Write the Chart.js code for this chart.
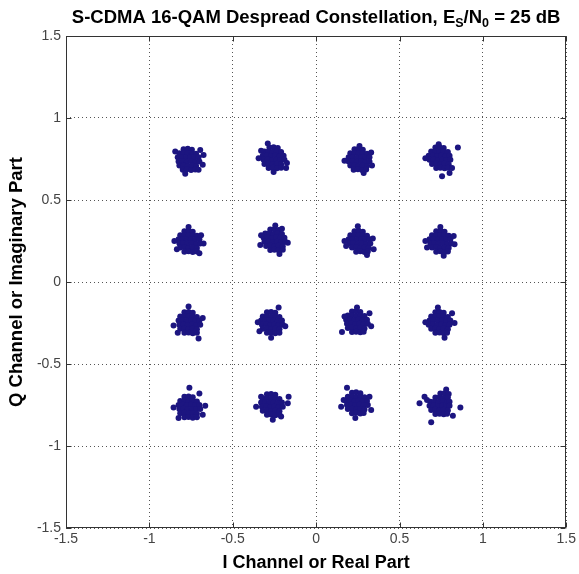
<!DOCTYPE html>
<html><head><meta charset="utf-8">
<script src="https://cdn.jsdelivr.net/npm/chart.js@4/dist/chart.umd.min.js"></script>
<style>html,body{margin:0;padding:0;background:#fff}canvas{display:block}</style>
</head><body>
<canvas id="c" width="579" height="574"></canvas>
<script>
// ---- data ----
const xTickLabels = ['-1.5','-1','-0.5','0','0.5','1','1.5'];
const yTickLabels = ['-1.5','-1','-0.5','0','0.5','1','1.5'];
const titleParts = [['S-CDMA 16-QAM Despread Constellation, E',0],['S',1],['/N',0],['0',1],[' = 25 dB',0]];
const xTitle = 'I Channel or Real Part';
const yTitle = 'Q Channel or Imaginary Part';

const symA = [[-0.795,0.81],[-0.77,0.812],[-0.745,0.807],[-0.82,0.785],[-0.795,0.787],[-0.77,0.783],[-0.745,0.786],[-0.72,0.782],[-0.83,0.76],[-0.805,0.762],[-0.78,0.758],[-0.755,0.761],[-0.73,0.757],[-0.705,0.76],[-0.825,0.735],[-0.80,0.737],[-0.775,0.733],[-0.75,0.736],[-0.725,0.732],[-0.70,0.735],[-0.82,0.71],[-0.795,0.712],[-0.77,0.708],[-0.745,0.711],[-0.72,0.707],[-0.80,0.685],[-0.775,0.687],[-0.75,0.683],[-0.725,0.686],[-0.675,0.775],[-0.68,0.715],[-0.785,0.66],[-0.705,0.685],[-0.845,0.795],[-0.695,0.805]];
const symB = [[-0.28,0.82],[-0.255,0.822],[-0.23,0.817],[-0.31,0.795],[-0.285,0.797],[-0.26,0.793],[-0.235,0.796],[-0.21,0.792],[-0.32,0.77],[-0.295,0.772],[-0.27,0.768],[-0.245,0.771],[-0.22,0.767],[-0.195,0.77],[-0.315,0.745],[-0.29,0.747],[-0.265,0.743],[-0.24,0.746],[-0.215,0.742],[-0.19,0.745],[-0.31,0.72],[-0.285,0.722],[-0.26,0.718],[-0.235,0.721],[-0.21,0.717],[-0.285,0.695],[-0.26,0.697],[-0.235,0.693],[-0.21,0.696],[-0.29,0.845],[-0.175,0.725],[-0.18,0.695],[-0.345,0.755],[-0.255,0.67],[-0.33,0.80]];
const symC = [[0.23,0.81],[0.255,0.812],[0.28,0.807],[0.205,0.785],[0.23,0.787],[0.255,0.783],[0.28,0.786],[0.305,0.782],[0.195,0.76],[0.22,0.762],[0.245,0.758],[0.27,0.761],[0.295,0.757],[0.32,0.76],[0.195,0.735],[0.22,0.737],[0.245,0.733],[0.27,0.736],[0.295,0.732],[0.32,0.735],[0.205,0.71],[0.23,0.712],[0.255,0.708],[0.28,0.711],[0.305,0.707],[0.225,0.685],[0.25,0.687],[0.275,0.683],[0.30,0.686],[0.17,0.74],[0.26,0.83],[0.33,0.79],[0.285,0.665],[0.335,0.71]];
const symD = [[0.715,0.82],[0.74,0.822],[0.765,0.817],[0.69,0.795],[0.715,0.797],[0.74,0.793],[0.765,0.796],[0.79,0.792],[0.675,0.77],[0.70,0.772],[0.725,0.768],[0.75,0.771],[0.775,0.767],[0.80,0.77],[0.68,0.745],[0.705,0.747],[0.73,0.743],[0.755,0.746],[0.78,0.742],[0.805,0.745],[0.695,0.72],[0.72,0.722],[0.745,0.718],[0.77,0.721],[0.795,0.717],[0.72,0.695],[0.745,0.697],[0.77,0.693],[0.79,0.696],[0.85,0.82],[0.80,0.665],[0.755,0.645],[0.815,0.695],[0.655,0.755],[0.735,0.84]];
const symE = [[-0.79,0.31],[-0.765,0.312],[-0.74,0.307],[-0.815,0.285],[-0.79,0.287],[-0.765,0.283],[-0.74,0.286],[-0.715,0.282],[-0.825,0.26],[-0.80,0.262],[-0.775,0.258],[-0.75,0.261],[-0.725,0.257],[-0.70,0.26],[-0.82,0.235],[-0.795,0.237],[-0.77,0.233],[-0.745,0.236],[-0.72,0.232],[-0.695,0.235],[-0.815,0.21],[-0.79,0.212],[-0.765,0.208],[-0.74,0.211],[-0.715,0.207],[-0.79,0.185],[-0.765,0.187],[-0.74,0.183],[-0.715,0.186],[-0.85,0.25],[-0.675,0.235],[-0.69,0.285],[-0.765,0.335],[-0.835,0.20],[-0.70,0.175]];
const symF = [[-0.275,0.32],[-0.25,0.322],[-0.225,0.317],[-0.305,0.295],[-0.28,0.297],[-0.255,0.293],[-0.23,0.296],[-0.205,0.292],[-0.315,0.27],[-0.29,0.272],[-0.265,0.268],[-0.24,0.271],[-0.215,0.267],[-0.19,0.27],[-0.31,0.245],[-0.285,0.247],[-0.26,0.243],[-0.235,0.246],[-0.21,0.242],[-0.185,0.245],[-0.30,0.22],[-0.275,0.222],[-0.25,0.218],[-0.225,0.221],[-0.20,0.217],[-0.275,0.195],[-0.25,0.197],[-0.225,0.193],[-0.20,0.196],[-0.335,0.225],[-0.17,0.24],[-0.245,0.345],[-0.205,0.325],[-0.33,0.285],[-0.22,0.17]];
const symG = [[0.23,0.31],[0.255,0.312],[0.28,0.307],[0.205,0.285],[0.23,0.287],[0.255,0.283],[0.28,0.286],[0.305,0.282],[0.195,0.26],[0.22,0.262],[0.245,0.258],[0.27,0.261],[0.295,0.257],[0.32,0.26],[0.20,0.235],[0.225,0.237],[0.25,0.233],[0.275,0.236],[0.30,0.232],[0.325,0.235],[0.215,0.21],[0.24,0.212],[0.265,0.208],[0.29,0.211],[0.315,0.207],[0.24,0.185],[0.265,0.187],[0.29,0.183],[0.31,0.186],[0.17,0.25],[0.25,0.34],[0.18,0.22],[0.345,0.20],[0.34,0.265],[0.305,0.165]];
const symH = [[0.72,0.31],[0.745,0.312],[0.77,0.307],[0.695,0.285],[0.72,0.287],[0.745,0.283],[0.77,0.286],[0.795,0.282],[0.68,0.26],[0.705,0.262],[0.73,0.258],[0.755,0.261],[0.78,0.257],[0.805,0.26],[0.685,0.235],[0.71,0.237],[0.735,0.233],[0.76,0.236],[0.785,0.232],[0.81,0.235],[0.695,0.21],[0.72,0.212],[0.745,0.208],[0.77,0.211],[0.795,0.207],[0.72,0.185],[0.745,0.187],[0.77,0.183],[0.79,0.186],[0.655,0.25],[0.83,0.23],[0.745,0.335],[0.765,0.16],[0.665,0.21],[0.825,0.28]];
const symI = [[-0.79,-0.185],[-0.765,-0.183],[-0.74,-0.188],[-0.815,-0.21],[-0.79,-0.208],[-0.765,-0.212],[-0.74,-0.209],[-0.715,-0.213],[-0.825,-0.235],[-0.80,-0.233],[-0.775,-0.237],[-0.75,-0.234],[-0.725,-0.238],[-0.70,-0.235],[-0.82,-0.26],[-0.795,-0.258],[-0.77,-0.262],[-0.745,-0.259],[-0.72,-0.263],[-0.695,-0.26],[-0.815,-0.285],[-0.79,-0.283],[-0.765,-0.287],[-0.74,-0.284],[-0.715,-0.288],[-0.79,-0.31],[-0.765,-0.308],[-0.74,-0.312],[-0.715,-0.309],[-0.765,-0.15],[-0.855,-0.265],[-0.705,-0.345],[-0.68,-0.22],[-0.83,-0.31]];
const symJ = [[-0.295,-0.185],[-0.27,-0.183],[-0.245,-0.188],[-0.32,-0.21],[-0.295,-0.208],[-0.27,-0.212],[-0.245,-0.209],[-0.22,-0.213],[-0.33,-0.235],[-0.305,-0.233],[-0.28,-0.237],[-0.255,-0.234],[-0.23,-0.238],[-0.205,-0.235],[-0.325,-0.26],[-0.30,-0.258],[-0.275,-0.262],[-0.25,-0.259],[-0.225,-0.263],[-0.20,-0.26],[-0.32,-0.285],[-0.295,-0.283],[-0.27,-0.287],[-0.245,-0.284],[-0.22,-0.288],[-0.295,-0.31],[-0.27,-0.308],[-0.245,-0.312],[-0.22,-0.309],[-0.225,-0.155],[-0.35,-0.245],[-0.185,-0.27],[-0.27,-0.34],[-0.34,-0.30]];
const symK = [[0.215,-0.18],[0.24,-0.178],[0.265,-0.183],[0.19,-0.205],[0.215,-0.203],[0.24,-0.207],[0.265,-0.204],[0.29,-0.208],[0.18,-0.23],[0.205,-0.228],[0.23,-0.232],[0.255,-0.229],[0.28,-0.233],[0.305,-0.23],[0.185,-0.255],[0.21,-0.253],[0.235,-0.257],[0.26,-0.254],[0.285,-0.258],[0.31,-0.255],[0.19,-0.28],[0.215,-0.278],[0.24,-0.282],[0.265,-0.279],[0.29,-0.283],[0.215,-0.305],[0.24,-0.303],[0.265,-0.307],[0.285,-0.304],[0.155,-0.305],[0.245,-0.155],[0.32,-0.19],[0.33,-0.27],[0.17,-0.21]];
const symL = [[0.715,-0.185],[0.74,-0.183],[0.765,-0.188],[0.69,-0.21],[0.715,-0.208],[0.74,-0.212],[0.765,-0.209],[0.79,-0.213],[0.68,-0.235],[0.705,-0.233],[0.73,-0.237],[0.755,-0.234],[0.78,-0.238],[0.805,-0.235],[0.675,-0.26],[0.70,-0.258],[0.725,-0.262],[0.75,-0.259],[0.775,-0.263],[0.80,-0.26],[0.69,-0.285],[0.715,-0.283],[0.74,-0.287],[0.765,-0.284],[0.79,-0.288],[0.715,-0.31],[0.74,-0.308],[0.765,-0.312],[0.785,-0.309],[0.73,-0.155],[0.655,-0.245],[0.83,-0.25],[0.77,-0.34],[0.815,-0.19]];
const symM = [[-0.79,-0.70],[-0.765,-0.698],[-0.74,-0.703],[-0.815,-0.725],[-0.79,-0.723],[-0.765,-0.727],[-0.74,-0.724],[-0.715,-0.728],[-0.825,-0.75],[-0.80,-0.748],[-0.775,-0.752],[-0.75,-0.749],[-0.725,-0.753],[-0.70,-0.75],[-0.82,-0.775],[-0.795,-0.773],[-0.77,-0.777],[-0.745,-0.774],[-0.72,-0.778],[-0.695,-0.775],[-0.815,-0.80],[-0.79,-0.798],[-0.765,-0.802],[-0.74,-0.799],[-0.715,-0.803],[-0.79,-0.825],[-0.765,-0.823],[-0.74,-0.827],[-0.715,-0.824],[-0.76,-0.645],[-0.855,-0.765],[-0.665,-0.755],[-0.70,-0.68],[-0.825,-0.83],[-0.68,-0.81]];
const symN = [[-0.295,-0.685],[-0.27,-0.683],[-0.245,-0.688],[-0.32,-0.71],[-0.295,-0.708],[-0.27,-0.712],[-0.245,-0.709],[-0.22,-0.713],[-0.33,-0.735],[-0.305,-0.733],[-0.28,-0.737],[-0.255,-0.734],[-0.23,-0.738],[-0.205,-0.735],[-0.325,-0.76],[-0.30,-0.758],[-0.275,-0.762],[-0.25,-0.759],[-0.225,-0.763],[-0.20,-0.76],[-0.32,-0.785],[-0.295,-0.783],[-0.27,-0.787],[-0.245,-0.784],[-0.22,-0.788],[-0.295,-0.81],[-0.27,-0.808],[-0.245,-0.812],[-0.22,-0.809],[-0.165,-0.70],[-0.17,-0.74],[-0.36,-0.76],[-0.26,-0.84],[-0.21,-0.82],[-0.33,-0.70]];
const symO = [[0.215,-0.675],[0.24,-0.673],[0.265,-0.678],[0.19,-0.70],[0.215,-0.698],[0.24,-0.702],[0.265,-0.699],[0.29,-0.703],[0.18,-0.725],[0.205,-0.723],[0.23,-0.727],[0.255,-0.724],[0.28,-0.728],[0.305,-0.725],[0.185,-0.75],[0.21,-0.748],[0.235,-0.752],[0.26,-0.749],[0.285,-0.753],[0.31,-0.75],[0.19,-0.775],[0.215,-0.773],[0.24,-0.777],[0.265,-0.774],[0.29,-0.778],[0.215,-0.80],[0.24,-0.798],[0.265,-0.802],[0.285,-0.799],[0.15,-0.76],[0.185,-0.645],[0.33,-0.78],[0.32,-0.70],[0.235,-0.83],[0.165,-0.72]];
const symP = [[0.745,-0.68],[0.77,-0.678],[0.795,-0.683],[0.715,-0.705],[0.74,-0.703],[0.765,-0.707],[0.79,-0.704],[0.685,-0.73],[0.71,-0.728],[0.735,-0.732],[0.76,-0.729],[0.785,-0.733],[0.80,-0.73],[0.68,-0.755],[0.705,-0.753],[0.73,-0.757],[0.755,-0.754],[0.78,-0.758],[0.80,-0.755],[0.69,-0.78],[0.715,-0.778],[0.74,-0.782],[0.765,-0.779],[0.79,-0.783],[0.715,-0.805],[0.74,-0.803],[0.765,-0.807],[0.785,-0.804],[0.62,-0.74],[0.865,-0.765],[0.69,-0.855],[0.65,-0.70],[0.665,-0.72],[0.82,-0.815],[0.78,-0.655]];

const clusters = [symA,symB,symC,symD,symE,symF,symG,symH,symI,symJ,symK,symL,symM,symN,symO,symP];
const points = clusters.flat().map(([x,y]) => ({x, y}));

// ---- drawing ----
const FONT = "'Liberation Sans', Arial, Helvetica, sans-serif";
const PT = '#1c1580';

const extras = {
  id: 'extras',
  afterDraw(chart) {
    const {ctx, chartArea: a, scales: {x, y}} = chart;
    ctx.save();
    const L = Math.round(a.left) + 0.5, R = Math.round(a.right) - 0.5;
    const T = Math.round(a.top) + 0.5, B = Math.round(a.bottom) - 0.5;
    ctx.strokeStyle = '#333';
    ctx.lineWidth = 1;
    ctx.strokeRect(L, T, R - L, B - T);
    ctx.beginPath();
    x.ticks.forEach(t => {
      const px = Math.round(x.getPixelForValue(t.value)) + 0.5;
      ctx.moveTo(px, B); ctx.lineTo(px, B - 5);
      ctx.moveTo(px, T); ctx.lineTo(px, T + 5);
    });
    y.ticks.forEach(t => {
      const py = Math.round(y.getPixelForValue(t.value)) + 0.5;
      ctx.moveTo(L, py); ctx.lineTo(L + 5, py);
      ctx.moveTo(R, py); ctx.lineTo(R - 5, py);
    });
    ctx.stroke();

    // title with subscripts
    const big = 'bold 18.5px ' + FONT, small = 'bold 12.5px ' + FONT;
    let w = 0;
    titleParts.forEach(([t, s]) => { ctx.font = s ? small : big; w += ctx.measureText(t).width; });
    let cx = (a.left + a.right) / 2 - w / 2;
    const base = 23;
    ctx.fillStyle = '#000';
    ctx.textBaseline = 'alphabetic';
    ctx.textAlign = 'left';
    titleParts.forEach(([t, s]) => {
      ctx.font = s ? small : big;
      ctx.fillText(t, cx, s ? base + 4 : base);
      cx += ctx.measureText(t).width;
    });
    ctx.restore();
  }
};

new Chart(document.getElementById('c'), {
  type: 'scatter',
  data: {
    datasets: [{
      data: points,
      backgroundColor: PT,
      borderColor: PT,
      borderWidth: 0,
      pointRadius: 3,
      pointStyle: 'circle'
    }]
  },
  options: {
    responsive: false,
    animation: false,
    layout: {padding: {top: 36, right: 11, left: 0, bottom: 0}},
    plugins: {legend: {display: false}, tooltip: {enabled: false}, title: {display: false}},
    scales: {
      x: {
        type: 'linear', min: -1.5, max: 1.5,
        afterFit(s) { s.height = 46; },
        ticks: {stepSize: 0.5, padding: 3, color: '#444', font: {family: FONT, size: 14},
          maxRotation: 0, autoSkip: false,
          callback: (v) => xTickLabels[Math.round((v + 1.5) / 0.5)]},
        grid: {color: '#555', lineWidth: 1, drawTicks: false},
        border: {display: false, dash: [1, 3]},
        title: {display: true, text: xTitle, color: '#000', font: {family: FONT, size: 18, weight: 'bold'}, padding: {top: 0, bottom: 0}}
      },
      y: {
        type: 'linear', min: -1.5, max: 1.5,
        afterFit(s) { s.width = 66; },
        ticks: {stepSize: 0.5, padding: 5, color: '#444', font: {family: FONT, size: 14},
          autoSkip: false,
          callback: (v) => yTickLabels[Math.round((v + 1.5) / 0.5)]},
        grid: {color: '#555', lineWidth: 1, drawTicks: false},
        border: {display: false, dash: [1, 3]},
        title: {display: true, text: yTitle, color: '#000', font: {family: FONT, size: 18.5, weight: 'bold'}, padding: {top: 6, bottom: 0}}
      }
    }
  },
  plugins: [extras]
});
</script>
</body></html>
